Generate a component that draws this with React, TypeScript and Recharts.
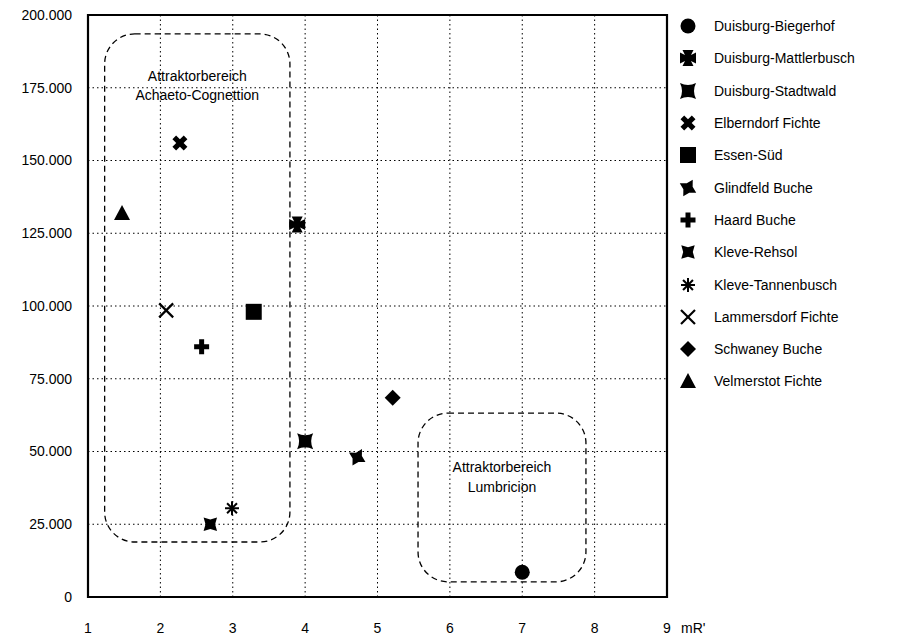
import React from "react";
import {
  ScatterChart,
  Scatter,
  XAxis,
  YAxis,
  CartesianGrid,
  ReferenceArea,
  Legend
} from "recharts";

// Standorte mit mR'-Wert und Individuenzahl
const standorte = [
  "Duisburg-Biegerhof",
  "Duisburg-Mattlerbusch",
  "Duisburg-Stadtwald",
  "Elberndorf Fichte",
  "Essen-Süd",
  "Glindfeld Buche",
  "Haard Buche",
  "Kleve-Rehsol",
  "Kleve-Tannenbusch",
  "Lammersdorf Fichte",
  "Schwaney Buche",
  "Velmerstot Fichte"
];
const mrWerte = [7.0, 3.89, 4.0, 2.27, 3.29, 4.72, 2.57, 2.69, 2.99, 2.08, 5.21, 1.47];
const werte = [8500, 128000, 53500, 156000, 98000, 48000, 86000, 25000, 30500, 98500, 68500, 132000];

const xTicks = [1, 2, 3, 4, 5, 6, 7, 8, 9];
const yTicks = [0, 25000, 50000, 75000, 100000, 125000, 150000, 175000, 200000];

// Attraktorbereiche (Datenkoordinaten)
const bereiche = [
  { x1: 1.23, x2: 3.79, y1: 18900, y2: 193500, zeilen: ["Attraktorbereich", "Achaeto-Cognettion"], textTop: 42 },
  { x1: 5.56, x2: 7.88, y1: 5200, y2: 63200, zeilen: ["Attraktorbereich", "Lumbricion"], textTop: 54 }
];

const symbole: Record<string, string> = {
  "Duisburg-Biegerhof": "kreis",
  "Duisburg-Mattlerbusch": "tatzenkreuz",
  "Duisburg-Stadtwald": "kissen",
  "Elberndorf Fichte": "dickesx",
  "Essen-Süd": "quadrat",
  "Glindfeld Buche": "stern30",
  "Haard Buche": "plus",
  "Kleve-Rehsol": "stern45",
  "Kleve-Tannenbusch": "asterisk",
  "Lammersdorf Fichte": "x",
  "Schwaney Buche": "raute",
  "Velmerstot Fichte": "dreieck"
};

const schrift = "'Liberation Sans', Arial, sans-serif";

const pts = (p: number[][]) => p.map((q) => q.join(",")).join(" ");

const plusPts = (w: number, l: number) =>
  pts([
    [-w, -l], [w, -l], [w, -w], [l, -w], [l, w], [w, w],
    [w, l], [-w, l], [-w, w], [-l, w], [-l, -w], [-w, -w]
  ]);

const sternPts = pts([
  [0, -9.5], [3.4, -3.4], [9.5, 0], [3.4, 3.4], [0, 9.5], [-3.4, 3.4], [-9.5, 0], [-3.4, -3.4]
]);

function Symbol({ kind, cx, cy }: { kind: string; cx: number; cy: number }) {
  const t = `translate(${cx},${cy})`;
  switch (kind) {
    case "kreis":
      return <circle cx={cx} cy={cy} r={7.5} fill="#000" />;
    case "tatzenkreuz":
      return (
        <polygon
          transform={t}
          fill="#000"
          points={pts([
            [-5.5, -8], [5.5, -8], [3, -3], [8, -5.5], [8, 5.5], [3, 3],
            [5.5, 8], [-5.5, 8], [-3, 3], [-8, 5.5], [-8, -5.5], [-3, -3]
          ])}
        />
      );
    case "kissen":
      return (
        <path
          transform={t}
          fill="#000"
          d="M-8,-8 Q0,-4 8,-8 Q4,0 8,8 Q0,4 -8,8 Q-4,0 -8,-8 Z"
        />
      );
    case "dickesx":
      return <polygon transform={`${t} rotate(45)`} fill="#000" points={plusPts(2.6, 8)} />;
    case "quadrat":
      return <rect x={cx - 8} y={cy - 8} width={16} height={16} fill="#000" />;
    case "stern30":
      return <polygon transform={`${t} rotate(30)`} fill="#000" points={sternPts} />;
    case "stern45":
      return <polygon transform={`${t} rotate(45)`} fill="#000" points={sternPts} />;
    case "plus":
      return <polygon transform={t} fill="#000" points={plusPts(2.5, 7.5)} />;
    case "asterisk":
      return (
        <g transform={t} stroke="#000" strokeWidth={2}>
          {[0, 45, 90, 135].map((a) => (
            <line key={a} x1={0} y1={-7} x2={0} y2={7} transform={`rotate(${a})`} />
          ))}
        </g>
      );
    case "x":
      return (
        <g transform={t} stroke="#000" strokeWidth={2.2}>
          <line x1={-7} y1={-7} x2={7} y2={7} />
          <line x1={-7} y1={7} x2={7} y2={-7} />
        </g>
      );
    case "raute":
      return <polygon transform={t} fill="#000" points={pts([[0, -8], [8, 0], [0, 8], [-8, 0]])} />;
    case "dreieck":
      return <polygon transform={t} fill="#000" points={pts([[0, -8], [8, 7], [-8, 7]])} />;
    default:
      return null;
  }
}

const punkt = (i: number) => [{ x: mrWerte[i], y: werte[i] }];

const tausender = (v: number) => String(v).replace(/\B(?=(\d{3})+(?!\d))/g, ".");

const renderLegende = (props: any) => (
  <div style={{ fontFamily: schrift, fontSize: 14, color: "#000" }}>
    {(props.payload || []).map((e: any) => (
      <div key={e.value} style={{ height: 32.3, display: "flex", alignItems: "center" }}>
        <svg width={20} height={20}>
          <Symbol kind={symbole[e.value]} cx={10} cy={10} />
        </svg>
        <span style={{ marginLeft: 16, whiteSpace: "nowrap" }}>{e.value}</span>
      </div>
    ))}
  </div>
);

const bereichForm = (b: (typeof bereiche)[number]) => (p: any) => (
  <g>
    <rect
      x={p.x}
      y={p.y}
      width={p.width}
      height={p.height}
      rx={30}
      ry={30}
      fill="none"
      stroke="#000"
      strokeWidth={1.3}
      strokeDasharray="6 4"
    />
    {b.zeilen.map((z, k) => (
      <text
        key={k}
        x={p.x + p.width / 2}
        y={p.y + b.textTop + k * 19.5}
        textAnchor="middle"
        dominantBaseline="central"
        fontFamily={schrift}
        fontSize={14}
        fill="#000"
      >
        {z}
      </text>
    ))}
  </g>
);

export default function App() {
  return (
    <div style={{ position: "absolute", left: 0, top: 0, background: "#fff" }}>
      <ScatterChart
        width={909}
        height={635}
        margin={{ top: 15, right: 242, bottom: 0, left: 0 }}
        style={{ fontFamily: schrift }}
      >
        <CartesianGrid stroke="#000" strokeDasharray="1.5 3" strokeWidth={1} />
        <XAxis
          type="number"
          dataKey="x"
          domain={[1, 9]}
          ticks={xTicks}
          interval={0}
          height={38}
          axisLine={false}
          tickLine={false}
          tickSize={0}
          tickMargin={26}
          tick={{ fill: "#000", fontSize: 14 }}
          label={{ value: "mR'", position: "right", offset: 14, dy: 12, fill: "#000", fontSize: 14 }}
        />
        <YAxis
          type="number"
          dataKey="y"
          domain={[0, 200000]}
          ticks={yTicks}
          interval={0}
          width={88}
          axisLine={false}
          tickLine={false}
          tickSize={0}
          tickMargin={16}
          tickFormatter={tausender}
          tick={{ fill: "#000", fontSize: 14 }}
        />
        <ReferenceArea
          x1={1}
          x2={9}
          y1={0}
          y2={200000}
          fill="none"
          fillOpacity={0}
          stroke="#000"
          strokeWidth={2.2}
          ifOverflow="visible"
        />
        {bereiche.map((b, k) => (
          <ReferenceArea
            key={k}
            x1={b.x1}
            x2={b.x2}
            y1={b.y1}
            y2={b.y2}
            shape={bereichForm(b)}
          />
        ))}
        {standorte.map((name, i) => (
          <Scatter
            key={name}
            name={name}
            data={punkt(i)}
            fill="#000"
            isAnimationActive={false}
            shape={(p: any) => <Symbol kind={symbole[name]} cx={p.cx} cy={p.cy} />}
          />
        ))}
        <Legend
          layout="vertical"
          align="center"
          verticalAlign="middle"
          content={renderLegende}
          wrapperStyle={{ left: 678, top: 10, width: 231 }}
        />
      </ScatterChart>
    </div>
  );
}
